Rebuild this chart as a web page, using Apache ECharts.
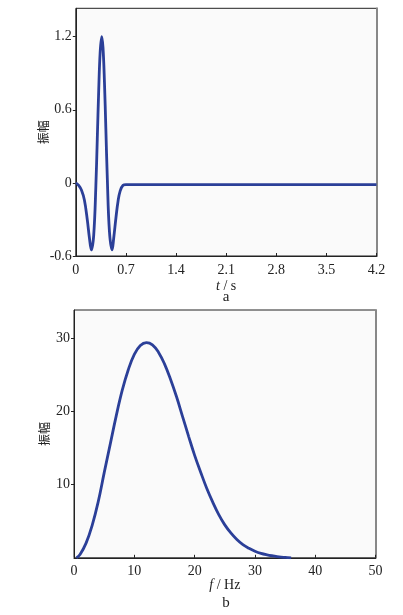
<!DOCTYPE html>
<html>
<head>
<meta charset="utf-8">
<script src="https://cdn.jsdelivr.net/npm/echarts@6/dist/echarts.min.js"></script>
<style>
  html, body { margin: 0; background: #fff; }
  #chart { width: 403px; height: 615px; }
</style>
</head>
<body>
<div id="chart"></div>
<script>
// 图a：时间域子波
const timeS = [0, 0.04, 0.08, 0.12, 0.16, 0.19, 0.217, 0.25, 0.28, 0.30, 0.32, 0.34, 0.362,
  0.38, 0.40, 0.42, 0.44, 0.47, 0.507, 0.53, 0.56, 0.59, 0.62, 0.66, 0.70, 0.80, 4.2]
const ampA = [0, -0.02, -0.06, -0.14, -0.30, -0.45, -0.55, -0.43, -0.03, 0.36, 0.76, 1.07, 1.2,
  1.11, 0.83, 0.44, 0.04, -0.40, -0.55, -0.45, -0.29, -0.15, -0.065, -0.02, -0.014, -0.014, -0.014]

// 图b：振幅谱
const freqHz = [0.4, 1, 2, 3, 4, 5, 6, 7, 8, 9, 10, 11, 12, 13, 14, 15, 16, 17, 18, 19, 20,
  21, 22, 23, 24, 25, 26, 27, 28, 29, 30, 31, 32, 33, 34, 35, 36]
const ampB = [0, 0.45, 2.0, 4.4, 7.6, 11.6, 15.5, 19.4, 22.9, 25.7, 27.8, 29.0, 29.4, 29.1, 28.1,
  26.5, 24.4, 22.0, 19.3, 16.6, 14.0, 11.7, 9.5, 7.6, 5.9, 4.5, 3.4, 2.5, 1.8, 1.3, 0.9, 0.6,
  0.4, 0.25, 0.12, 0.05, 0]

const serif = 'Liberation Serif'
const lineColor = '#2b3f98'
const fmt = v => String(+v.toFixed(1))

const chart = echarts.init(document.getElementById('chart'))

const xAxisBase = {
  type: 'value',
  axisLine: { onZero: false, lineStyle: { color: '#222', width: 1 } },
  axisTick: { inside: true, length: 3, lineStyle: { color: '#222' } },
  axisLabel: { color: '#222', fontFamily: serif, fontSize: 14, margin: 7, formatter: fmt },
  splitLine: { show: false },
  nameLocation: 'middle',
  nameMoveOverlap: false,
  nameTextStyle: {
    color: '#222', fontFamily: serif, fontSize: 14,
    rich: { i: { fontStyle: 'italic', fontFamily: serif, fontSize: 14, color: '#222' } }
  }
}
const yAxisBase = {
  type: 'value',
  axisLine: { onZero: false, lineStyle: { color: '#222', width: 1 } },
  axisTick: { inside: false, length: 3, lineStyle: { color: '#222' } },
  axisLabel: { color: '#222', fontFamily: serif, fontSize: 14, margin: 4, formatter: fmt, showMaxLabel: false },
  splitLine: { show: false },
  name: '振幅',
  nameLocation: 'middle',
  nameRotate: 90,
  nameMoveOverlap: false,
  nameTextStyle: { color: '#222', fontFamily: 'Noto Sans CJK SC', fontSize: 12 }
}
const rightEdge = {
  type: 'value', position: 'right',
  axisLine: { show: true, onZero: false, lineStyle: { color: '#888', width: 2 } },
  axisTick: { show: false }, axisLabel: { show: false }, splitLine: { show: false }
}

const option = {
  animation: false,
  grid: [
    { left: 75.8, top: 8.3, width: 300.7, height: 247.7, show: true,
      borderColor: '#222', borderWidth: 1, backgroundColor: '#fafafa' },
    { left: 74, top: 310, width: 301.6, height: 247.8, show: true,
      borderColor: '#222', borderWidth: 1, backgroundColor: '#fafafa' }
  ],
  xAxis: [
    { ...xAxisBase, gridIndex: 0, min: 0, max: 4.2, interval: 0.7,
      name: '{i|t} / s', nameGap: 23 },
    { ...xAxisBase, gridIndex: 1, min: 0, max: 50, interval: 10,
      name: '{i|f} / Hz', nameGap: 21 }
  ],
  yAxis: [
    { ...yAxisBase, gridIndex: 0, min: -0.6, max: 1.433, interval: 0.6, nameGap: 26 },
    { ...yAxisBase, gridIndex: 1, min: 0, max: 33.86, interval: 10, nameGap: 24,
      axisLabel: { ...yAxisBase.axisLabel, showMinLabel: false } },
    { ...rightEdge, gridIndex: 0, min: -0.6, max: 1.433 },
    { ...rightEdge, gridIndex: 1, min: 0, max: 33.86 }
  ],
  graphic: [
    { type: 'text', x: 226, y: 297, style: { text: 'a', font: '15px "Liberation Serif"', fill: '#222', align: 'center', verticalAlign: 'middle' } },
    { type: 'text', x: 226, y: 603, style: { text: 'b', font: '15px "Liberation Serif"', fill: '#222', align: 'center', verticalAlign: 'middle' } }
  ],
  series: [
    {
      type: 'line', xAxisIndex: 0, yAxisIndex: 0, smooth: 0.4, symbol: 'none', clip: true,
      lineStyle: { color: lineColor, width: 2.8 },
      data: timeS.map((t, i) => [t, ampA[i]])
    },
    {
      type: 'line', xAxisIndex: 1, yAxisIndex: 1, smooth: 0.4, symbol: 'none', clip: true,
      lineStyle: { color: lineColor, width: 2.8 },
      data: freqHz.map((f, i) => [f, ampB[i]])
    }
  ]
}

chart.setOption(option)
</script>
</body>
</html>
